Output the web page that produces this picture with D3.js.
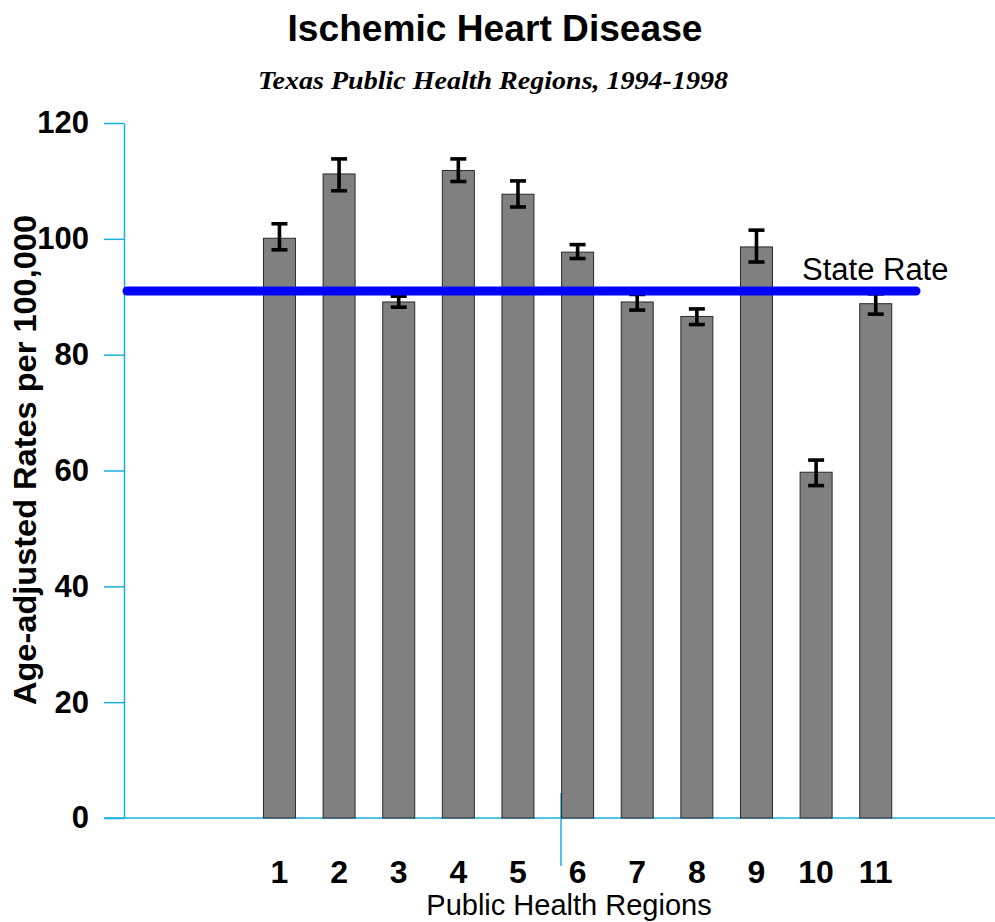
<!DOCTYPE html>
<html><head><meta charset="utf-8">
<script src="https://cdn.jsdelivr.net/npm/d3@7"></script>
<style>body{margin:0;background:#fff}svg{display:block}</style>
</head><body>
<script>
const regions = ["1","2","3","4","5","6","7","8","9","10","11"];
const rates   = [100.1, 111.2, 89.1, 111.8, 107.7, 97.7, 89.1, 86.6, 98.6, 59.7, 88.8];
const upper   = [102.6, 113.8, 90.1, 113.8, 110.0, 99.0, 90.4, 87.9, 101.5, 61.8, 90.5];
const lower   = [98.1, 108.3, 88.2, 109.9, 105.5, 96.6, 87.7, 85.2, 96.0, 57.4, 87.0];
const stateRate = 91.0;
const yTicks = [0, 20, 40, 60, 80, 100, 120];

const W = 995, H = 922;
const svg = d3.select("body").append("svg").attr("width", W).attr("height", H);

const x = d3.scaleLinear().domain([-1.607, 13]).range([124, 995]);
const y = d3.scaleLinear().domain([0, 120]).range([818, 123]);
const axisColor = "#1ab0dc";
const barW = 32;
const sans = "Liberation Sans, Arial, sans-serif";

// title
svg.append("text").attr("x", 495).attr("y", 41).attr("text-anchor", "middle")
  .attr("font-family", sans).attr("font-weight", "bold")
  .attr("font-size", 37).attr("textLength", 415).attr("lengthAdjust", "spacingAndGlyphs")
  .text("Ischemic Heart Disease");
svg.append("text").attr("x", 493).attr("y", 89).attr("text-anchor", "middle")
  .attr("font-family", "Liberation Serif, Times New Roman, serif").attr("font-weight", "bold")
  .attr("font-style", "italic").attr("font-size", 26).attr("textLength", 470).attr("lengthAdjust", "spacingAndGlyphs")
  .text("Texas Public Health Regions, 1994-1998");

// y axis
const yAxis = d3.axisLeft(y).tickValues(yTicks).tickSize(20).tickSizeOuter(0).tickPadding(15);
const gy = svg.append("g").attr("transform", "translate(124,0)").call(yAxis);
gy.select(".domain").attr("stroke", axisColor).attr("stroke-width", 1.5);
gy.selectAll(".tick line").attr("stroke", axisColor).attr("stroke-width", 1.5);
gy.selectAll(".tick text").attr("font-family", sans)
  .attr("font-weight", "bold").attr("font-size", 31).attr("fill", "#000");

svg.append("text").attr("transform", "translate(36,460) rotate(-90)").attr("text-anchor", "middle")
  .attr("font-family", sans).attr("font-weight", "bold")
  .attr("font-size", 31).attr("textLength", 490).attr("lengthAdjust", "spacingAndGlyphs")
  .text("Age-adjusted Rates per 100,000");

// x axis baseline
svg.append("line").attr("x1", 104).attr("x2", 995).attr("y1", y(0)).attr("y2", y(0))
  .attr("stroke", axisColor).attr("stroke-width", 1.5);
svg.append("line").attr("x1", 561).attr("x2", 561).attr("y1", 793).attr("y2", 866)
  .attr("stroke", axisColor).attr("stroke-width", 1.5);

// bars
svg.append("g").selectAll("rect").data(rates).join("rect")
  .attr("x", (d, i) => x(i + 1) - barW / 2).attr("width", barW)
  .attr("y", d => y(d)).attr("height", d => y(0) - y(d))
  .attr("fill", "#808080").attr("stroke", "#2a2a2a").attr("stroke-width", 1);

// error bars
const eg = svg.append("g").attr("stroke", "#000").attr("stroke-width", 3.6);
regions.forEach((r, i) => {
  const cx = x(i + 1);
  eg.append("line").attr("x1", cx).attr("x2", cx).attr("y1", y(upper[i])).attr("y2", y(lower[i]));
  eg.append("line").attr("x1", cx - 8).attr("x2", cx + 8).attr("y1", y(upper[i])).attr("y2", y(upper[i]));
  eg.append("line").attr("x1", cx - 8).attr("x2", cx + 8).attr("y1", y(lower[i])).attr("y2", y(lower[i]));
});

// state rate line
svg.append("line").attr("x1", 127).attr("x2", 916).attr("y1", y(stateRate)).attr("y2", y(stateRate))
  .attr("stroke", "#0000ff").attr("stroke-width", 9).attr("stroke-linecap", "round");
svg.append("text").attr("x", 802).attr("y", 280)
  .attr("font-family", sans).attr("font-size", 31).text("State Rate");

// x labels
svg.append("g").selectAll("text").data(regions).join("text")
  .attr("x", (d, i) => x(i + 1)).attr("y", 883).attr("text-anchor", "middle")
  .attr("font-family", sans).attr("font-weight", "bold")
  .attr("font-size", 32).text(d => d);

svg.append("text").attr("x", 569).attr("y", 915).attr("text-anchor", "middle")
  .attr("font-family", sans).attr("font-size", 29)
  .text("Public Health Regions");
</script>
</body></html>
